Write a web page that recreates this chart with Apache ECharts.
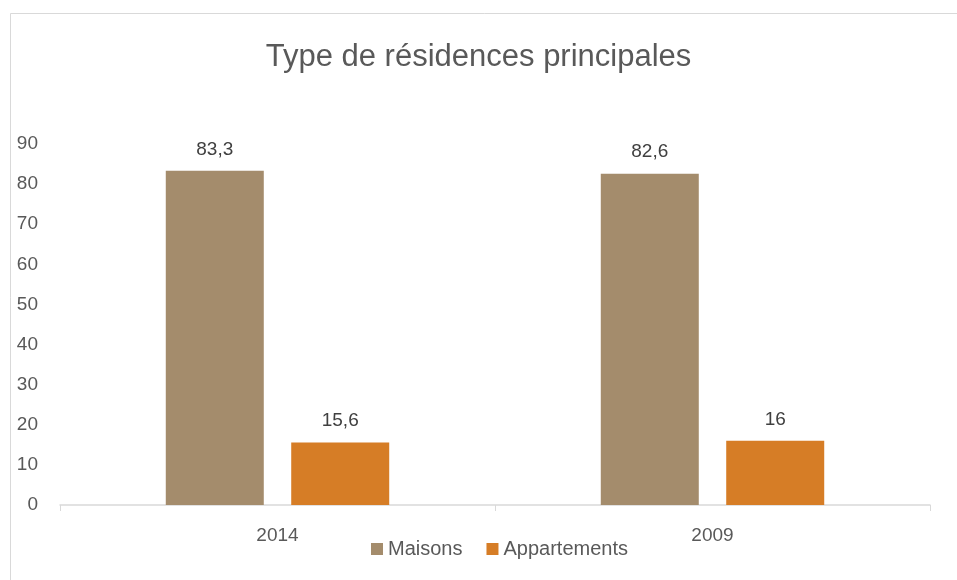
<!DOCTYPE html>
<html>
<head>
<meta charset="utf-8">
<script src="https://cdn.jsdelivr.net/npm/echarts@6/dist/echarts.min.js"></script>
<style>
  html, body { margin: 0; padding: 0; background: #fff; }
  #chart { width: 957px; height: 580px; }
</style>
</head>
<body>
<div id="chart"></div>
<script>
const years = ['2014', '2009']
const maisons = [83.3, 82.6]
const appartements = [15.6, 16]

const font = "'Liberation Sans Narrow', 'Liberation Sans', Arial, sans-serif"
const fmt = (p) => String(p.value).replace('.', ',')

const chart = echarts.init(document.getElementById('chart'))

chart.setOption({
  backgroundColor: '#fff',
  animation: false,
  textStyle: { fontFamily: font },
  graphic: [
    {
      type: 'rect',
      shape: { x: 10.5, y: 13.5, width: 960, height: 600 },
      style: { fill: 'none', stroke: '#d9d9d9', lineWidth: 1 },
      silent: true,
    },
  ],
  title: {
    text: 'Type de résidences principales',
    left: 'center',
    top: 37,
    textStyle: { fontFamily: font, fontSize: 31, fontWeight: 'normal', color: '#595959' },
  },
  legend: {
    data: ['Maisons', 'Appartements'],
    bottom: 16,
    left: 366,
    itemWidth: 12,
    itemHeight: 12,
    itemGap: 24,
    icon: 'rect',
    textStyle: { fontFamily: font, fontSize: 20, color: '#595959' },
  },
  grid: { left: 60, right: 27, top: 144, bottom: 75, containLabel: false },
  xAxis: {
    type: 'category',
    data: years,
    axisLine: { lineStyle: { color: '#d9d9d9', width: 1.5 } },
    axisTick: { show: true, length: 6, lineStyle: { color: '#d9d9d9' } },
    axisLabel: { fontFamily: font, fontSize: 19, color: '#595959', margin: 21 },
  },
  yAxis: {
    type: 'value',
    min: 0,
    max: 90,
    interval: 10,
    axisLine: { show: false },
    axisTick: { show: false },
    splitLine: { show: false },
    axisLabel: { fontFamily: font, fontSize: 19, color: '#595959', margin: 22 },
  },
  series: [
    {
      name: 'Maisons',
      type: 'bar',
      data: maisons,
      barWidth: 98,
      barGap: '28%',
      itemStyle: { color: '#a48c6c' },
      label: { show: true, position: 'top', distance: 12, formatter: fmt, fontFamily: font, fontSize: 19, color: '#404040' },
    },
    {
      name: 'Appartements',
      type: 'bar',
      data: appartements,
      barWidth: 98,
      itemStyle: { color: '#d67d26' },
      label: { show: true, position: 'top', distance: 12, formatter: fmt, fontFamily: font, fontSize: 19, color: '#404040' },
    },
  ],
})
</script>
</body>
</html>
